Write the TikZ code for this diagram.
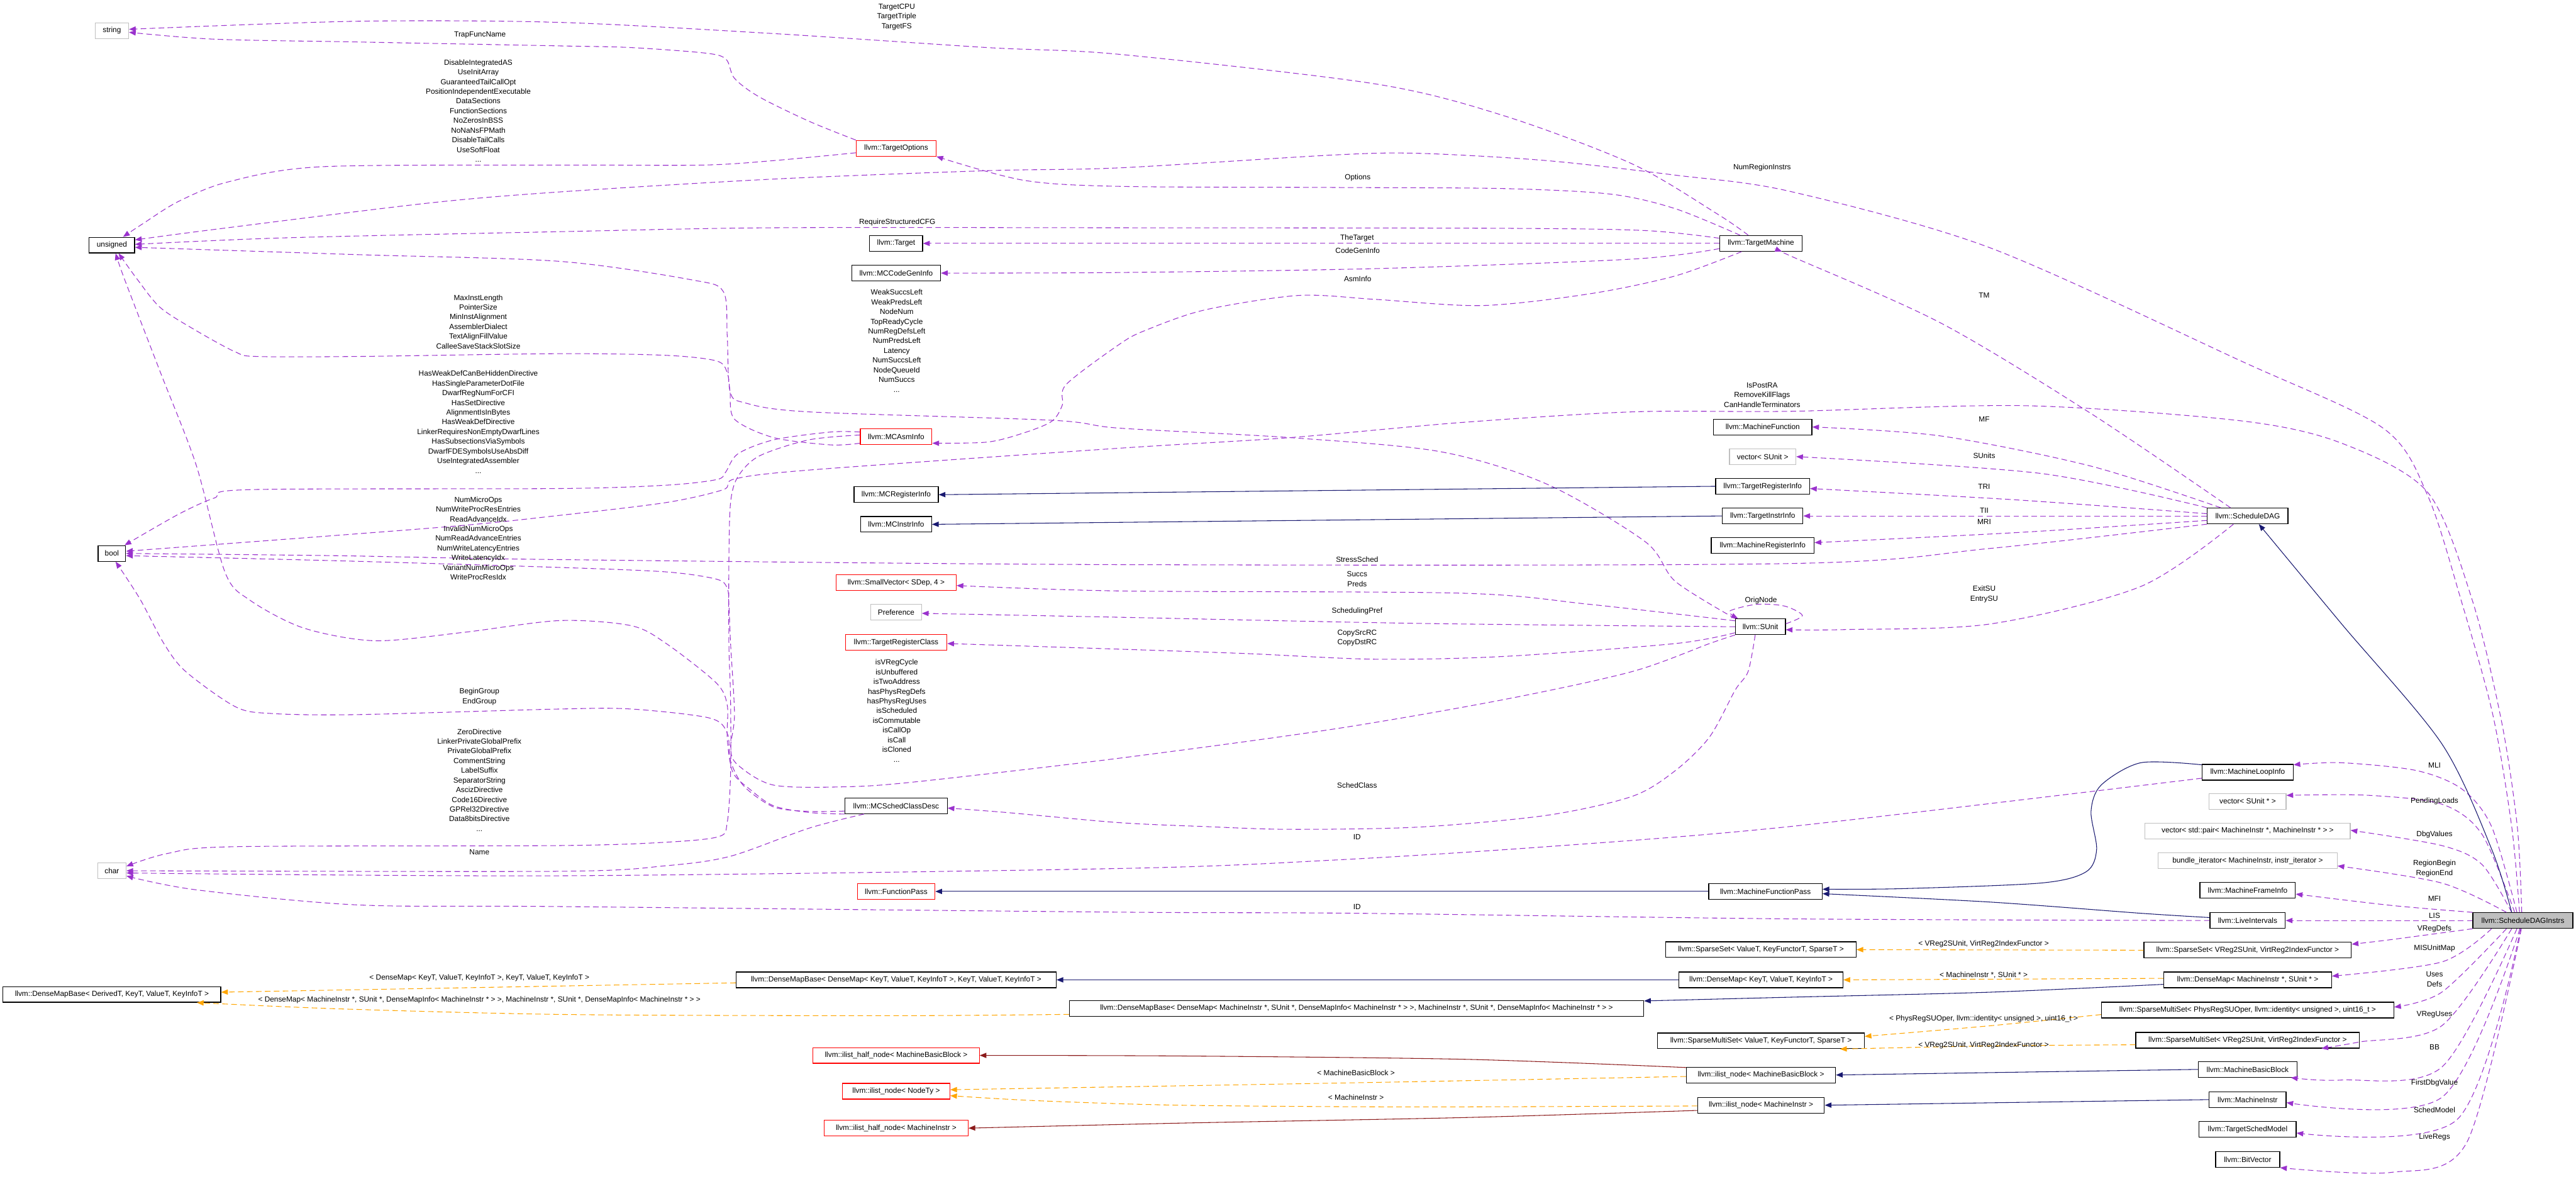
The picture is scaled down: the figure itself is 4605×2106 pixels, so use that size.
\documentclass[tikz,border=0pt]{standalone}
\usepackage{fontspec}
\setsansfont{Liberation Sans}
\usetikzlibrary{arrows.meta}

\definecolor{memclr}{RGB}{154,50,205}
\definecolor{pubclr}{RGB}{25,25,112}
\definecolor{tplclr}{RGB}{255,165,0}
\definecolor{prvclr}{RGB}{139,26,26}
\definecolor{extclr}{RGB}{191,191,191}

\begin{document}
\begin{tikzpicture}[
  x=0.75pt, y=-0.75pt,
  cls/.style={
    draw=black, fill=white, line width=1pt,
    minimum height=21pt, inner xsep=4pt, inner ysep=2pt,
    font=\sffamily\fontsize{10}{12}\selectfont
  },
  ext/.style={cls, draw=extclr},
  trunc/.style={cls, draw=red},
  root/.style={cls, fill=extclr},
  lbl/.style={font=\sffamily\fontsize{10}{13}\selectfont, align=center, inner sep=0pt},
  mem/.style={draw=memclr, line width=0.9pt, dash pattern=on 7.5pt off 4.5pt,
    -{Triangle[length=9pt, width=7pt]}},
  pub/.style={draw=pubclr, line width=0.9pt, -{Triangle[length=9pt, width=7pt]}},
  prv/.style={draw=prvclr, line width=0.9pt, -{Triangle[length=9pt, width=7pt]}},
  tpl/.style={draw=tplclr, line width=0.9pt, dash pattern=on 7.5pt off 4.5pt,
    -{Triangle[length=9pt, width=7pt]}},
]
\useasboundingbox (0,0) rectangle (4605,2106);

% ===== Basic types =====
\node[ext, minimum width=45pt] (str) at (200,55) {string};
\node[cls, minimum width=61pt] (uns) at (200,438) {unsigned};
\node[cls, minimum width=37pt] (boo) at (200,989) {bool};
\node[ext, minimum width=38pt] (chr) at (200,1556) {char};
\node[cls, minimum width=292pt] (dmbd) at (200,1777) {llvm::DenseMapBase< DerivedT, KeyT, ValueT, KeyInfoT >};

% ===== Second column =====
\node[trunc, minimum width=107pt] (topt) at (1602,265) {llvm::TargetOptions};
\node[cls, minimum width=71pt] (tgt) at (1602,435) {llvm::Target};
\node[cls, minimum width=119pt] (mccg) at (1602,488) {llvm::MCCodeGenInfo};
\node[trunc, minimum width=96pt] (mcasm) at (1602,780) {llvm::MCAsmInfo};
\node[cls, minimum width=113pt] (mcri) at (1602,884) {llvm::MCRegisterInfo};
\node[cls, minimum width=95pt] (mcii) at (1602,937) {llvm::MCInstrInfo};
\node[trunc, minimum width=161pt] (svec) at (1602,1041) {llvm::SmallVector< SDep, 4 >};
\node[ext, minimum width=68pt] (pref) at (1602,1094) {Preference};
\node[trunc, minimum width=136pt] (trc) at (1602,1148) {llvm::TargetRegisterClass};
\node[cls, minimum width=137pt] (mcscd) at (1602,1440) {llvm::MCSchedClassDesc};
\node[trunc, minimum width=104pt] (fpass) at (1602,1593) {llvm::FunctionPass};
\node[cls, minimum width=429pt] (dmbk) at (1602,1751) {llvm::DenseMapBase< DenseMap< KeyT, ValueT, KeyInfoT >, KeyT, ValueT, KeyInfoT >};
\node[trunc, minimum width=223pt] (ilhmbb) at (1602,1886) {llvm::ilist\_half\_node< MachineBasicBlock >};
\node[trunc, minimum width=144pt] (ilnt) at (1602,1950) {llvm::ilist\_node< NodeTy >};
\node[trunc, minimum width=193pt] (ilhmi) at (1602,2016) {llvm::ilist\_half\_node< MachineInstr >};
\node[cls, minimum width=770pt] (dmbm) at (2425,1802) {llvm::DenseMapBase< DenseMap< MachineInstr *, SUnit *, DenseMapInfo< MachineInstr * > >, MachineInstr *, SUnit *, DenseMapInfo< MachineInstr * > >};

% ===== Third column =====
\node[cls, minimum width=111pt] (tm) at (3148,435) {llvm::TargetMachine};
\node[cls, minimum width=132pt] (mf) at (3151,763) {llvm::MachineFunction};
\node[ext, minimum width=89pt] (vsu) at (3151,816) {vector< SUnit >};
\node[cls, minimum width=126pt] (tri) at (3151,869) {llvm::TargetRegisterInfo};
\node[cls, minimum width=108pt] (tii) at (3151,922) {llvm::TargetInstrInfo};
\node[cls, minimum width=138pt] (mri) at (3151,975) {llvm::MachineRegisterInfo};
\node[cls, minimum width=67pt] (sunit) at (3147,1120) {llvm::SUnit};
\node[cls, minimum width=152pt] (mfp) at (3156,1593) {llvm::MachineFunctionPass};
\node[cls, minimum width=255pt] (ssetg) at (3148,1697) {llvm::SparseSet< ValueT, KeyFunctorT, SparseT >};
\node[cls, minimum width=220pt] (dmk) at (3148,1751) {llvm::DenseMap< KeyT, ValueT, KeyInfoT >};
\node[cls, minimum width=277pt] (smsg) at (3148,1860) {llvm::SparseMultiSet< ValueT, KeyFunctorT, SparseT >};
\node[cls, minimum width=200pt] (ilmbb) at (3148,1921) {llvm::ilist\_node< MachineBasicBlock >};
\node[cls, minimum width=170pt] (ilmi) at (3148,1975) {llvm::ilist\_node< MachineInstr >};

% ===== Fourth column =====
\node[cls, minimum width=108pt] (sdag) at (4018,922) {llvm::ScheduleDAG};
\node[cls, minimum width=122pt] (mli) at (4018,1380) {llvm::MachineLoopInfo};
\node[ext, minimum width=103pt] (vsup) at (4018,1432) {vector< SUnit * >};
\node[ext, minimum width=275pt] (vpair) at (4018,1485) {vector< std::pair< MachineInstr *, MachineInstr * > >};
\node[ext, minimum width=240pt] (bundle) at (4018,1538) {bundle\_iterator< MachineInstr, instr\_iterator >};
\node[cls, minimum width=128pt] (mfi) at (4018,1591) {llvm::MachineFrameInfo};
\node[cls, minimum width=101pt] (lis) at (4018,1645) {llvm::LiveIntervals};
\node[cls, minimum width=278pt] (sset) at (4018,1698) {llvm::SparseSet< VReg2SUnit, VirtReg2IndexFunctor >};
\node[cls, minimum width=225pt] (dmap) at (4018,1751) {llvm::DenseMap< MachineInstr *, SUnit * >};
\node[cls, minimum width=392pt] (smsp) at (4018,1805) {llvm::SparseMultiSet< PhysRegSUOper, llvm::identity< unsigned >, uint16\_t >};
\node[cls, minimum width=300pt] (smsv) at (4018,1859) {llvm::SparseMultiSet< VReg2SUnit, VirtReg2IndexFunctor >};
\node[cls, minimum width=132pt] (mbb) at (4018,1911) {llvm::MachineBasicBlock};
\node[cls, minimum width=103pt] (mi) at (4018,1965) {llvm::MachineInstr};
\node[cls, minimum width=130pt] (tsm) at (4018,2018) {llvm::TargetSchedModel};
\node[cls, minimum width=86pt] (bv) at (4018,2072) {llvm::BitVector};

% ===== Root =====
\node[root, minimum width=134pt] (sdi) at (4510,1645) {llvm::ScheduleDAGInstrs};

% ===== Member edges to the basic types =====
\draw[mem] plot[smooth, tension=.5] coordinates {([xshift=-17pt]tm.north) (3071,383) (2918,293) (2689,207) (2459,150) (2000,97) (1765,85) (1383,60) (1000,40) (638,38) ([yshift=2pt]str.east)};
\draw[mem] plot[smooth, tension=.5] coordinates {(topt.north west) (1447,217) (1357,173) (1313,140) (1298,106) (1262,95) (1128,85) (1000,82) (638,75) (383,70) ([yshift=-2pt]str.east)};
\draw[mem] plot[smooth, tension=.5] coordinates {([yshift=-6pt]topt.west) (1383,287) (1255,295) (1000,295) (574,298) (408,325) (319,360) (255,400) ([xshift=15pt]uns.north)};
\draw[mem] plot[smooth, tension=.5] coordinates {([xshift=-4.5pt]sdi.north) (4490,1477) (4456,1276) (4400,1074) (4340,886) (4260,765) (4006,645) (3558,443) (3200,342) (2995,313) (2765,287) (2536,274) (2383,277) (2000,300) (1765,305) (1383,320) (1000,343) (765,363) (383,410) ([yshift=7pt]uns.east)};
\draw[mem] plot[smooth, tension=.5] coordinates {([yshift=7pt]tm.west) (2941,412) (2689,408) (2000,407) (1383,407) (1000,414) (510,425) ([yshift=1pt]uns.east)};
\draw[mem] plot[smooth, tension=.5] coordinates {([yshift=-9pt]mcasm.west) (1485,795) (1383,782) (1313,749) (1305,699) (1300,666) (1281,645) (1191,635) (1000,632) (638,637) (459,637) (421,629) (351,591) (287,550) (246,500) ([xshift=9pt]uns.south)};
\draw[mem] plot[smooth, tension=.5] coordinates {(sunit.north west) (2995,1039) (2941,968) (2765,865) (2574,807) (2306,782) (2000,765) (1880,751) (1446,736) (1332,720) (1305,699) (1300,600) (1293,521) (1236,500) (1000,467) (638,455) ([yshift=-3pt]uns.east)};
\draw[mem] plot[smooth, tension=.5] coordinates {(mcscd.south west) (1447,1452) (1383,1440) (1340,1410) (1310,1380) (1300,1320) (1300,1260) (1280,1220) (1191,1150) (1128,1118) (1000,1109) (829,1130) (670,1145) (542,1122) (446,1072) (402,1022) (351,832) (287,666) (223,500) ([xshift=5pt]uns.south)};
\draw[mem] plot[smooth, tension=.5] coordinates {([yshift=6pt]mcasm.west) (1485,772) (1383,786) (1319,811) (1297,844) (1281,857) (1191,867) (1000,873) (446,875) (383,890) (319,919) ([xshift=17pt]boo.north)};
\draw[mem] plot[smooth, tension=.5] coordinates {([xshift=-1.5pt]sdi.north) (4500,1477) (4472,1290) (4420,1074) (4340,880) (4186,792) (4006,752) (3621,725) (3200,735) (2918,736) (2612,755) (2306,782) (2000,801) (1446,840) (1313,856) (1293,875) (1191,898) (1000,921) (791,942) ([yshift=3pt]boo.east)};
\draw[mem] plot[smooth, tension=.5] coordinates {(sdag.south west) (3558,980) (3200,1007) (2000,1009) (1000,1000) (600,993) (boo.east)};
\draw[mem] plot[smooth, tension=.5] coordinates {(sunit.south west) (3056,1150) (2918,1200) (2689,1250) (2383,1303) (2000,1355) (1638,1397) (1510,1406) (1383,1403) (1319,1367) (1306,1337) (1313,1277) (1306,1150) (1303,1080) (1300,1051) (1281,1035) (1191,1022) (1000,1014) (600,1002) ([yshift=-3pt]boo.east)};
\draw[mem] plot[smooth, tension=.5] coordinates {([yshift=4pt]mcscd.south west) (1447,1450) (1383,1442) (1330,1405) (1306,1360) (1300,1310) (1268,1283) (1128,1267) (1000,1267) (638,1277) (485,1275) (421,1263) (332,1200) (293,1150) (250,1070) ([xshift=5pt]boo.south)};
\draw[mem] plot[smooth, tension=.5] coordinates {([yshift=2pt]mcasm.west) (1446,786) (1357,815) (1319,852) (1306,898) (1303,1000) (1303,1150) (1306,1250) (1306,1383) (1300,1470) (1285,1495) (1191,1505) (1000,1511) (421,1513) (300,1525) ([yshift=6pt]chr.east)};
\draw[mem] plot[smooth, tension=.5] coordinates {([xshift=-43pt]mcscd.south) (1446,1480) (1306,1530) (1191,1547) (1000,1557) (chr.east)};
\draw[mem] plot[smooth, tension=.5] coordinates {([yshift=-8pt]mli.west) (3200,1477) (2765,1513) (2383,1537) (2000,1552) (1000,1565) ([yshift=-3pt]chr.east)};
\draw[mem] plot[smooth, tension=.5] coordinates {(lis.west) (3200,1642) (2426,1632) (2000,1630) (1000,1620) (638,1617) (350,1590) ([yshift=-7pt]chr.east)};

% ===== Member edges to the second column =====
\draw[mem] plot[smooth, tension=.5] coordinates {([xshift=-28pt]tm.north) (2995,373) (2880,347) (2689,337) (2383,335) (2000,333) (1829,322) (topt.south east)};
\draw[mem] (tm.west) -- (tgt.east);
\draw[mem] plot[smooth, tension=.5] coordinates {([yshift=-7pt]tm.west) (2918,463) (2459,480) (2000,487) (mccg.east)};
\draw[mem] plot[smooth, tension=.5] coordinates {([xshift=-26pt]tm.south) (2995,493) (2842,525) (2650,546) (2459,535) (2321,528) (2153,554) (2046,591) (2000,616) (1906,687) (1899,724) (1880,753) (1829,774) (1765,790) ([yshift=-9pt]mcasm.east)};
\draw[mem] plot[smooth, tension=.5] coordinates {([yshift=8pt]sunit.west) (2842,1080) (2612,1060) (2000,1056) ([yshift=-4pt]svec.east)};
\draw[mem] plot[smooth, tension=.5] coordinates {(sunit.west) (2536,1114) (2000,1103) ([yshift=-1.5pt]pref.east)};
\draw[mem] plot[smooth, tension=.5] coordinates {([yshift=-8pt]sunit.west) (2995,1150) (2689,1173) (2459,1178) (2230,1168) (2000,1160) ([yshift=-1.5pt]trc.east)};
\draw[mem] plot[smooth, tension=.5] coordinates {([xshift=-7pt]sunit.south) (3125,1200) (3102,1233) (3056,1317) (2995,1377) (2918,1423) (2765,1457) (2536,1478) (2306,1482) (2153,1477) (2000,1470) (1800,1452) ([yshift=-3pt]mcscd.east)};

% ===== Member edges of ScheduleDAG and SUnit =====
\draw[mem] plot[smooth, tension=.5] coordinates {([yshift=4pt]sunit.east) (3222,1100) (3190,1083) (3140,1080) (3092,1092) ([xshift=-30pt]sunit.north)};
\draw[mem] plot[smooth, tension=.5] coordinates {([xshift=-19pt]sdag.south) (3827,1048) (3558,1115) (3300,1125) ([yshift=-4pt]sunit.east)};
\draw[mem] plot[smooth, tension=.5] coordinates {([xshift=-23pt]sdag.north) (3738,739) (3469,577) (3200,457) ([xshift=28pt]tm.south)};
\draw[mem] plot[smooth, tension=.5] coordinates {([xshift=-36pt]sdag.north) (3738,833) (3469,779) (mf.east)};
\draw[mem] plot[smooth, tension=.5] coordinates {(sdag.north west) (3648,846) (vsu.east)};
\draw[mem] plot[smooth, tension=.5] coordinates {([yshift=3pt]sdag.west) (3600,893) ([yshift=-3pt]tri.east)};
\draw[mem] (sdag.west) -- (tii.east);
\draw[mem] plot[smooth, tension=.5] coordinates {([yshift=-6pt]sdag.west) (3600,952) ([yshift=4pt]mri.east)};

% ===== Member edges of ScheduleDAGInstrs =====
\draw[mem] plot[smooth, tension=.5] coordinates {([xshift=-8pt]sdi.north) (4454,1477) (4401,1410) (4320,1377) (4186,1363) ([yshift=10pt]mli.east)};
\draw[mem] plot[smooth, tension=.5] coordinates {([xshift=-11pt]sdi.north) (4437,1491) (4365,1437) (4230,1421) ([yshift=8pt]vsup.east)};
\draw[mem] plot[smooth, tension=.5] coordinates {([xshift=-15pt]sdi.north) (4437,1545) (4365,1511) ([yshift=1pt]vpair.east)};
\draw[mem] plot[smooth, tension=.5] coordinates {([xshift=-22pt]sdi.north) (4365,1578) ([yshift=-7pt]bundle.east)};
\draw[mem] plot[smooth, tension=.5] coordinates {(sdi.north west) (4275,1618) ([yshift=-5pt]mfi.east)};
\draw[mem] (sdi.west) -- (lis.east);
\draw[mem] plot[smooth, tension=.5] coordinates {(sdi.south west) (4275,1679) ([yshift=8pt]sset.east)};
\draw[mem] plot[smooth, tension=.5] coordinates {([xshift=-42pt]sdi.south) (4365,1719) ([yshift=5pt]dmap.east)};
\draw[mem] plot[smooth, tension=.5] coordinates {([xshift=-22pt]sdi.south) (4365,1773) ([yshift=4pt]smsp.east)};
\draw[mem] plot[smooth, tension=.5] coordinates {([xshift=-15pt]sdi.south) (4365,1833) (4218,1862) ([xshift=99pt]smsv.south)};
\draw[mem] plot[smooth, tension=.5] coordinates {([xshift=-8pt]sdi.south) (4365,1907) (4186,1930) ([xshift=58pt]mbb.south)};
\draw[mem] plot[smooth, tension=.5] coordinates {([xshift=-4pt]sdi.south) (4365,1961) ([yshift=-4pt]mi.east)};
\draw[mem] plot[smooth, tension=.5] coordinates {([xshift=-3pt]sdi.south) (4392,2001) ([yshift=-5pt]tsm.east)};
\draw[mem] plot[smooth, tension=.5] coordinates {([xshift=-2pt]sdi.south) (4410,2041) (4275,2095) (bv.south east)};

% ===== Inheritance =====
\draw[pub] plot[smooth, tension=.5] coordinates {([xshift=-15pt]sdi.north) (4454,1517) (4365,1329) (4186,1115) ([xshift=15pt]sdag.south)};
\draw[pub] (tri.west) -- (mcri.east);
\draw[pub] (tii.west) -- (mcii.east);
\draw[pub] (mfp.west) -- (fpass.east);
\draw[pub] plot[smooth, tension=.5] coordinates {([yshift=10pt]mli.west) (3827,1363) (3756,1403) (3738,1450) (3748,1518) (3729,1558) (3648,1578) (3400,1588) ([yshift=3pt]mfp.east)};
\draw[pub] plot[smooth, tension=.5] coordinates {([yshift=4pt]lis.west) (3827,1632) (3558,1612) ([yshift=-3pt]mfp.east)};
\draw[pub] (dmk.west) -- (dmbk.east);
\draw[pub] plot[smooth, tension=.5] coordinates {([yshift=-6pt]dmap.west) (3558,1773) (3200,1782) ([yshift=10pt]dmbm.east)};
\draw[pub] (mbb.west) -- (ilmbb.east);
\draw[pub] (mi.west) -- (ilmi.east);
\draw[prv] plot[smooth, tension=.5] coordinates {([yshift=10pt]ilmbb.west) (2620,1893) (2110,1887) (ilhmbb.east)};
\draw[prv] plot[smooth, tension=.5] coordinates {([yshift=-7pt]ilmi.west) (2620,1997) (2110,2007) (ilhmi.east)};

% ===== Template instances =====
\draw[tpl] ([yshift=-4pt]dmbk.west) -- ([yshift=3pt]dmbd.east);
\draw[tpl] plot[smooth, tension=.5] coordinates {([yshift=-8pt]dmbm.west) (1600,1815) (1020,1813) (612,1803) ([xshift=114pt]dmbd.south)};
\draw[tpl] (sset.west) -- (ssetg.east);
\draw[tpl] ([yshift=2pt]dmap.west) -- (dmk.east);
\draw[tpl] plot[smooth, tension=.5] coordinates {([yshift=-6pt]smsp.west) (3558,1833) ([yshift=6pt]smsg.east)};
\draw[tpl] plot[smooth, tension=.5] coordinates {([yshift=-6pt]smsv.west) (3558,1869) ([xshift=106pt]smsg.south)};
\draw[tpl] plot[smooth, tension=.5] coordinates {([yshift=-2pt]ilmbb.west) (2416,1935) ([yshift=2pt]ilnt.east)};
\draw[tpl] plot[smooth, tension=.5] coordinates {([yshift=-1pt]ilmi.west) (2518,1978) (2110,1975) (1855,1967) ([yshift=-6pt]ilnt.east)};

% ===== Edge labels =====
\node[lbl] at (1603,30) {TargetCPU\\TargetTriple\\TargetFS};
\node[lbl] at (858,63) {TrapFuncName};
\node[lbl] at (855,198) {DisableIntegratedAS\\UseInitArray\\GuaranteedTailCallOpt\\PositionIndependentExecutable\\DataSections\\FunctionSections\\NoZerosInBSS\\NoNaNsFPMath\\DisableTailCalls\\UseSoftFloat\\...};
\node[lbl] at (3150,299) {NumRegionInstrs};
\node[lbl] at (2427,317) {Options};
\node[lbl] at (1604,397) {RequireStructuredCFG};
\node[lbl] at (2426,425) {TheTarget};
\node[lbl] at (2427,448) {CodeGenInfo};
\node[lbl] at (2427,498) {AsmInfo};
\node[lbl] at (855,575) {MaxInstLength\\PointerSize\\MinInstAlignment\\AssemblerDialect\\TextAlignFillValue\\CalleeSaveStackSlotSize};
\node[lbl] at (1603,609) {WeakSuccsLeft\\WeakPredsLeft\\NodeNum\\TopReadyCycle\\NumRegDefsLeft\\NumPredsLeft\\Latency\\NumSuccsLeft\\NodeQueueId\\NumSuccs\\...};
\node[lbl] at (3150,706) {IsPostRA\\RemoveKillFlags\\CanHandleTerminators};
\node[lbl] at (855,754) {HasWeakDefCanBeHiddenDirective\\HasSingleParameterDotFile\\DwarfRegNumForCFI\\HasSetDirective\\AlignmentIsInBytes\\HasWeakDefDirective\\LinkerRequiresNonEmptyDwarfLines\\HasSubsectionsViaSymbols\\DwarfFDESymbolsUseAbsDiff\\UseIntegratedAssembler\\...};
\node[lbl] at (855,962) {NumMicroOps\\NumWriteProcResEntries\\ReadAdvanceIdx\\InvalidNumMicroOps\\NumReadAdvanceEntries\\NumWriteLatencyEntries\\WriteLatencyIdx\\VariantNumMicroOps\\WriteProcResIdx};
\node[lbl] at (2426,1000) {StressSched};
\node[lbl] at (2426,1035) {Succs\\Preds};
\node[lbl] at (2426,1092) {SchedulingPref};
\node[lbl] at (2426,1140) {CopySrcRC\\CopyDstRC};
\node[lbl] at (3148,1073) {OrigNode};
\node[lbl] at (1603,1270) {isVRegCycle\\isUnbuffered\\isTwoAddress\\hasPhysRegDefs\\hasPhysRegUses\\isScheduled\\isCommutable\\isCallOp\\isCall\\isCloned\\...};
\node[lbl] at (857,1245) {BeginGroup\\EndGroup};
\node[lbl] at (857,1394) {ZeroDirective\\LinkerPrivateGlobalPrefix\\PrivateGlobalPrefix\\CommentString\\LabelSuffix\\SeparatorString\\AscizDirective\\Code16Directive\\GPRel32Directive\\Data8bitsDirective\\...};
\node[lbl] at (2426,1403) {SchedClass};
\node[lbl] at (2426,1496) {ID};
\node[lbl] at (857,1523) {Name};
\node[lbl] at (2426,1621) {ID};
\node[lbl] at (857,1748) {< DenseMap< KeyT, ValueT, KeyInfoT >, KeyT, ValueT, KeyInfoT >};
\node[lbl] at (857,1787) {< DenseMap< MachineInstr *, SUnit *, DenseMapInfo< MachineInstr * > >, MachineInstr *, SUnit *, DenseMapInfo< MachineInstr * > >};
\node[lbl] at (2424,1917) {< MachineBasicBlock >};
\node[lbl] at (2424,1961) {< MachineInstr >};
\node[lbl] at (3547,528) {TM};
\node[lbl] at (3547,749) {MF};
\node[lbl] at (3547,814) {SUnits};
\node[lbl] at (3547,870) {TRI};
\node[lbl] at (3547,912) {TII};
\node[lbl] at (3547,933) {MRI};
\node[lbl] at (3547,1062) {ExitSU\\EntrySU};
\node[lbl] at (3546,1687) {< VReg2SUnit, VirtReg2IndexFunctor >};
\node[lbl] at (3546,1742) {< MachineInstr *, SUnit * >};
\node[lbl] at (3546,1821) {< PhysRegSUOper, llvm::identity< unsigned >, uint16\_t >};
\node[lbl] at (3546,1868) {< VReg2SUnit, VirtReg2IndexFunctor >};
\node[lbl] at (4352,1368) {MLI};
\node[lbl] at (4352,1432) {PendingLoads};
\node[lbl] at (4352,1491) {DbgValues};
\node[lbl] at (4352,1552) {RegionBegin\\RegionEnd};
\node[lbl] at (4352,1606) {MFI};
\node[lbl] at (4352,1636) {LIS};
\node[lbl] at (4352,1660) {VRegDefs};
\node[lbl] at (4352,1695) {MISUnitMap};
\node[lbl] at (4352,1750) {Uses\\Defs};
\node[lbl] at (4352,1813) {VRegUses};
\node[lbl] at (4352,1871) {BB};
\node[lbl] at (4352,1935) {FirstDbgValue};
\node[lbl] at (4352,1984) {SchedModel};
\node[lbl] at (4352,2032) {LiveRegs};

\end{tikzpicture}
\end{document}
